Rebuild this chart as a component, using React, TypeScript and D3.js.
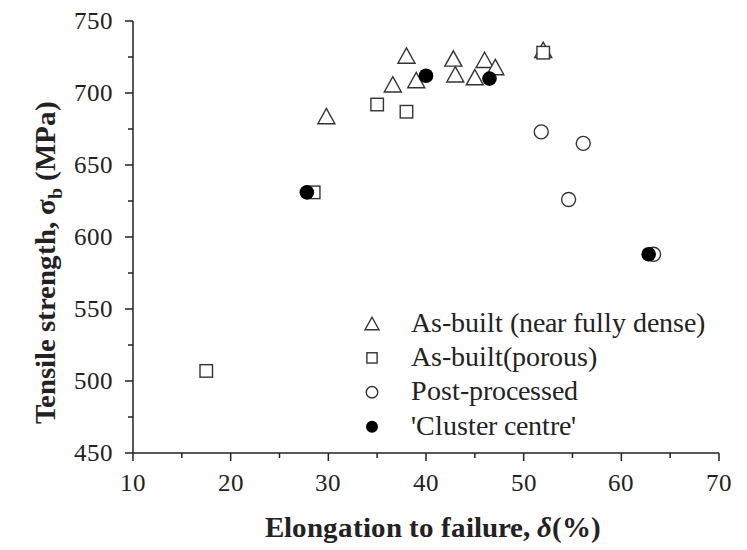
import React from "react";
import * as d3 from "d3";

// Elongation (%) and tensile strength (MPa) per specimen group
const denseX = [29.8, 36.6, 38.0, 39.0, 42.8, 43.0, 45.0, 46.0, 47.1, 52.0];
const denseY = [684, 706, 726, 709, 724, 713, 711, 723, 718, 730];
const porousX = [17.5, 28.5, 35.0, 38.0, 52.0];
const porousY = [507, 631, 692, 687, 728];
const postX = [51.8, 54.6, 56.1, 63.3];
const postY = [673, 626, 665, 588];
const clusterX = [27.8, 40.0, 46.5, 62.8];
const clusterY = [631, 712, 710, 588];

const xTicks = [10, 20, 30, 40, 50, 60, 70];
const yTicks = [450, 500, 550, 600, 650, 700, 750];
const legendLabels = [
  "As-built (near fully dense)",
  "As-built(porous)",
  "Post-processed",
  "'Cluster centre'",
];

const W = 747;
const H = 550;
const SERIF = 'ChartSerif, "Liberation Serif", Tinos, "Times New Roman", "DejaVu Serif", serif';
const FACES = `
@font-face { font-family: ChartSerif; font-weight: 400; src: local("Liberation Serif"), local("LiberationSerif"), local("LiberationSerif-Regular"), local("Times New Roman"), local("DejaVu Serif"), local("DejaVuSerif"); }
@font-face { font-family: ChartSerif; font-weight: 700; src: local("Liberation Serif Bold"), local("LiberationSerif-Bold"), local("Times New Roman Bold"), local("DejaVu Serif Bold"), local("DejaVuSerif-Bold"); }
@font-face { font-family: ChartSerif; font-weight: 700; font-style: italic; src: local("Liberation Serif Bold Italic"), local("LiberationSerif-BoldItalic"), local("DejaVu Serif Bold Italic"), local("DejaVuSerif-BoldItalic"); }
`;
const INK = "#222";
const MARK = "#333";

const x = d3.scaleLinear().domain([10, 70]).range([133, 719]);
const y = d3.scaleLinear().domain([450, 750]).range([453, 21]);

const tri = (s: number) => `M0,${-s * 0.45}L${s * 0.5},${s * 0.45}L${-s * 0.5},${s * 0.45}Z`;

function Marker({ kind, cx, cy, scale = 1 }: { kind: number; cx: number; cy: number; scale?: number }) {
  const t = `translate(${cx},${cy})`;
  if (kind === 0)
    return <path d={tri(17 * scale)} transform={t} fill="white" stroke={MARK} strokeWidth={1.4} />;
  if (kind === 1) {
    const s = 12.5 * scale;
    return <rect x={cx - s / 2} y={cy - s / 2} width={s} height={s} fill="white" stroke={MARK} strokeWidth={1.4} />;
  }
  if (kind === 2)
    return <circle cx={cx} cy={cy} r={7 * scale} fill="white" stroke={MARK} strokeWidth={1.4} />;
  return <circle cx={cx} cy={cy} r={7.3 * scale} fill="#000" />;
}

export default function App() {
  const series = [
    { xs: denseX, ys: denseY },
    { xs: porousX, ys: porousY },
    { xs: postX, ys: postY },
    { xs: clusterX, ys: clusterY },
  ];
  const minorX = d3.range(15, 70, 10);
  const minorY = d3.range(475, 750, 50);
  const [x0, x1] = x.range();
  const [y0, y1] = y.range();

  return (
    <div style={{ position: "fixed", left: 0, top: 0 }}>
      <style>{FACES}</style>
      <svg width={W} height={H} style={{ display: "block", background: "white", fontFamily: SERIF }}>
        {/* axes */}
        <g stroke={INK} strokeWidth={1.5} fill="none">
          <line x1={x0} x2={x0} y1={y0} y2={y1} />
          <line x1={x0} x2={x1} y1={y0} y2={y0} />
          {xTicks.map((t) => (
            <line key={"xt" + t} x1={x(t)} x2={x(t)} y1={y0} y2={y0 + 8} />
          ))}
          {minorX.map((t) => (
            <line key={"xm" + t} x1={x(t)} x2={x(t)} y1={y0} y2={y0 + 5} />
          ))}
          {yTicks.map((t) => (
            <line key={"yt" + t} x1={x0 - 8} x2={x0} y1={y(t)} y2={y(t)} />
          ))}
          {minorY.map((t) => (
            <line key={"ym" + t} x1={x0 - 5} x2={x0} y1={y(t)} y2={y(t)} />
          ))}
        </g>
        <g style={{ fontFamily: SERIF, fontSize: 25 }} fill={INK}>
          {xTicks.map((t) => (
            <text key={"xl" + t} x={x(t)} y={491} textAnchor="middle">
              {t}
            </text>
          ))}
          {yTicks.map((t) => (
            <text key={"yl" + t} x={113} y={y(t)} dy="0.33em" textAnchor="end">
              {t}
            </text>
          ))}
        </g>
        {/* axis titles */}
        <text x={433} y={537} textAnchor="middle" style={{ fontFamily: SERIF, fontSize: 29, fontWeight: "bold" }} fill={INK}>
          Elongation to failure, <tspan fontStyle="italic">δ</tspan>(%)
        </text>
        <text
          transform={`translate(55,262) rotate(-90)`}
          textAnchor="middle"
          style={{ fontFamily: SERIF, fontSize: 29, fontWeight: "bold" }}
          fill={INK}
        >
          Tensile strength, σ
          <tspan fontSize={20} dy={7}>b</tspan>
          <tspan dy={-7}> (MPa)</tspan>
        </text>
        {/* data */}
        {series.map((s, k) => (
          <g key={"s" + k}>
            {s.xs.map((v, i) => (
              <Marker key={i} kind={k} cx={x(v)} cy={y(s.ys[i])} />
            ))}
          </g>
        ))}
        {/* legend */}
        <g>
          {legendLabels.map((lab, i) => {
            const cy = 323.5 + i * 34.4;
            return (
              <g key={lab}>
                <Marker kind={i} cx={372} cy={cy} scale={0.82} />
                <text x={411} y={cy + 8} style={{ fontFamily: SERIF, fontSize: 28 }} fill={INK}>
                  {lab}
                </text>
              </g>
            );
          })}
        </g>
      </svg>
    </div>
  );
}
